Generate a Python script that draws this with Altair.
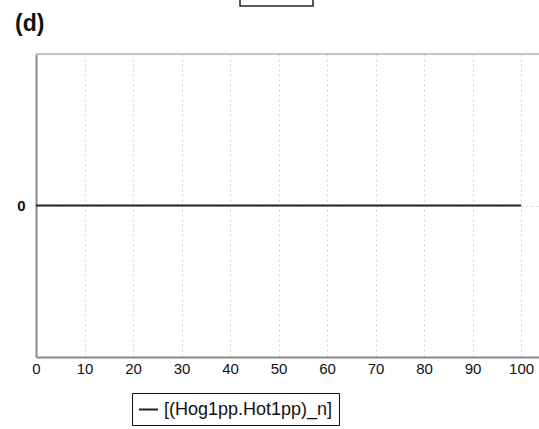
import altair as alt
import pandas as pd

# Series: a flat trace at zero over the simulated time span
series_name = "[(Hog1pp.Hot1pp)_n]"
time_points = [0, 100]
values = [0, 0]
x_ticks = [0, 10, 20, 30, 40, 50, 60, 70, 80, 90, 100]
y_ticks = [0]

df = pd.DataFrame({"t": time_points, "v": values, "series": [series_name] * len(values)})

FONT = "Liberation Sans"

x_scale = alt.Scale(domain=[0, 103.7], nice=False, zero=False)
y_scale = alt.Scale(domain=[-1, 1], nice=False)

line = alt.Chart(df).mark_line(strokeWidth=2, clip=True).encode(
    x=alt.X("t:Q", scale=x_scale, title=None,
            axis=alt.Axis(values=x_ticks, grid=True, gridDash=[2, 3], gridColor="#d4d4d4",
                          ticks=False, labelPadding=4, labelFontSize=15, labelFont=FONT,
                          labelColor="#111", domainColor="#8a8a8a", domainWidth=2,
                          labelFlush=False)),
    y=alt.Y("v:Q", scale=y_scale, title=None,
            axis=alt.Axis(values=y_ticks, grid=True, gridDash=[2, 3], gridColor="#d4d4d4",
                          ticks=False, labelPadding=11, labelFontSize=15, labelFont=FONT,
                          labelFontWeight="bold", labelColor="#111",
                          domainColor="#8a8a8a", domainWidth=2)),
    color=alt.Color("series:N", scale=alt.Scale(range=["#222222"]),
                    legend=alt.Legend(title=None, orient="none", legendX=96, legendY=339,
                                      symbolType="stroke", symbolSize=361, symbolStrokeWidth=2,
                                      labelFontSize=18, labelFont=FONT, labelColor="#111",
                                      labelLimit=0,
                                      strokeColor="#111", padding=6, labelOffset=5)),
)

# Top frame edge of the plot area (the right edge runs past the page)
top_edge = alt.Chart(pd.DataFrame({"k": [0]})).mark_rule(
    color="#c4c4c4", strokeWidth=2
).encode(x=alt.value(0), x2=alt.value(503), y=alt.value(0))

# Panel letter
panel_label = alt.Chart(pd.DataFrame({"label": ["(d)"]})).mark_text(
    font=FONT, fontSize=23, fontWeight="bold", align="left", baseline="alphabetic", color="#111"
).encode(text="label:N", x=alt.value(-21), y=alt.value(-23))

# Bottom edge of the preceding panel's legend box
prev_box = alt.Chart(pd.DataFrame({"k": [0]})).mark_rect(
    fill="white", stroke="#222", strokeWidth=1.5
).encode(x=alt.value(204), x2=alt.value(277), y=alt.value(-70), y2=alt.value(-48))

chart = alt.layer(top_edge, line, panel_label, prev_box).properties(
    width=503, height=303,
    autosize=alt.AutoSizeParams(type="none"),
    padding={"left": 36, "top": 54, "right": 0, "bottom": 72},
).configure_view(stroke=None).configure(background="white")

chart.save("out.html", embed_options={"renderer": "svg", "actions": False})
